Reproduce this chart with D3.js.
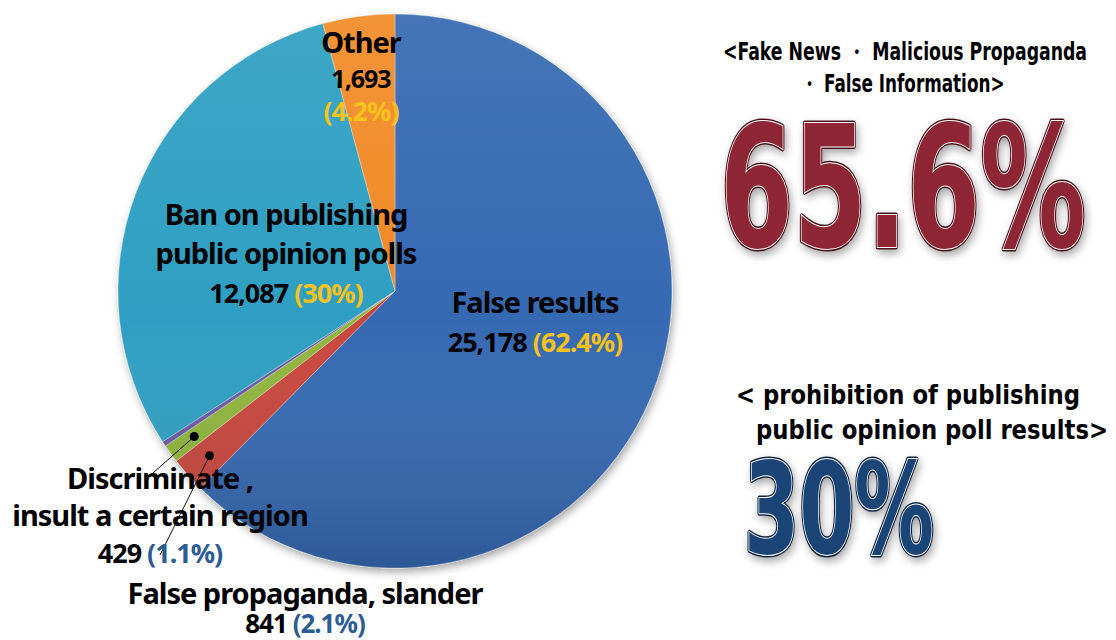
<!DOCTYPE html>
<html>
<head>
<meta charset="utf-8">
<script src="https://cdn.jsdelivr.net/npm/d3@7"></script>
<style>
  body { margin: 0; background: #fff; }
  svg { display: block; }
  .lbl { font-family: "Noto Sans", "Open Sans", sans-serif; font-weight: 700; letter-spacing: -1px; }
  .cond { font-family: "DejaVu Sans Condensed", "DejaVu Sans", sans-serif; font-weight: 700; }
</style>
</head>
<body>
<svg id="chart" width="1116" height="640"></svg>
<script>
// data
const categories = ['False results', 'False propaganda, slander', 'Discriminate , insult a certain region', 'Unlabelled', 'Ban on publishing public opinion polls', 'Other'];
const counts = [25178, 841, 429, 120, 12087, 1693];
const countLabels = ['25,178', '841', '429', '', '12,087', '1,693'];
const pctLabels = ['(62.4%)', '(2.1%)', '(1.1%)', '', '(30%)', '(4.2%)'];
const sliceColors = ['#3669b2', '#c8463d', '#90b53e', '#6a5aa6', '#2f9fc2', '#f28a26'];

const bigFake = '65.6%';
const bigPoll = '30%';

const svg = d3.select('#chart');
const defs = svg.append('defs');

const cx = 395, cy = 291, radius = 277;

// soft shadow for the pie and the big numbers
const shadow = defs.append('filter').attr('id', 'shadow')
    .attr('x', '-10%').attr('y', '-10%').attr('width', '130%').attr('height', '130%');
shadow.append('feDropShadow')
    .attr('dx', 2).attr('dy', 4).attr('stdDeviation', 4)
    .attr('flood-color', '#000').attr('flood-opacity', 0.35);

// shading over the slices (lighter top, darker bottom)
const shade = defs.append('linearGradient').attr('id', 'shade')
    .attr('gradientUnits', 'userSpaceOnUse')
    .attr('x1', 0).attr('y1', -radius).attr('x2', 0).attr('y2', radius);
shade.append('stop').attr('offset', '0%').attr('stop-color', '#fff').attr('stop-opacity', 0.08);
shade.append('stop').attr('offset', '55%').attr('stop-color', '#fff').attr('stop-opacity', 0);
shade.append('stop').attr('offset', '100%').attr('stop-color', '#000').attr('stop-opacity', 0.16);

const pie = d3.pie().value(d => d).sort(null);
const arcs = pie(counts);

const arc = d3.arc().innerRadius(0).outerRadius(radius);
const dotArc = d3.arc().innerRadius(248).outerRadius(248);

const pieG = svg.append('g')
    .attr('transform', `translate(${cx}, ${cy})`);

const slices = pieG.append('g').attr('filter', 'url(#shadow)');
slices.selectAll('path.slice')
    .data(arcs)
    .enter()
    .append('path')
    .attr('class', 'slice')
    .attr('d', arc)
    .attr('fill', (d, i) => sliceColors[i])
    .attr('stroke', 'rgba(255,255,255,0.3)')
    .attr('stroke-width', 1);

pieG.selectAll('path.shade')
    .data(arcs)
    .enter()
    .append('path')
    .attr('class', 'shade')
    .attr('d', arc)
    .attr('fill', 'url(#shade)');

// leader dots + lines for the two thin slices
const leaders = [
    { i: 2, to: [153, 473] },
    { i: 1, to: [160, 555] }
];
leaders.forEach(l => {
    const c = dotArc.centroid(arcs[l.i]);
    svg.append('line')
        .attr('x1', cx + c[0]).attr('y1', cy + c[1])
        .attr('x2', l.to[0]).attr('y2', l.to[1])
        .attr('stroke', '#111').attr('stroke-width', 1);
    svg.append('circle')
        .attr('cx', cx + c[0]).attr('cy', cy + c[1])
        .attr('r', 4.5).attr('fill', '#000');
});

// slice labels (placed like the original)
const yellow = '#f6c21c', navy = '#2d5b93';
function label(x, lines) {
    lines.forEach(ln => {
        const t = svg.append('text').attr('class', 'lbl')
            .attr('x', x).attr('y', ln.y)
            .attr('text-anchor', 'middle')
            .attr('font-size', ln.size);
        ln.parts.forEach(p => {
            t.append('tspan').attr('fill', p.c).text(p.t);
        });
    });
}

label(361, [
    { y: 53, size: 29, parts: [{ t: 'Other', c: '#000' }] },
    { y: 88, size: 25, parts: [{ t: countLabels[5], c: '#000' }] },
    { y: 121, size: 27, parts: [{ t: pctLabels[5], c: yellow }] }
]);
label(286, [
    { y: 225, size: 29, parts: [{ t: 'Ban on publishing', c: '#000' }] },
    { y: 264, size: 29, parts: [{ t: 'public opinion polls', c: '#000' }] },
    { y: 303, size: 27, parts: [{ t: countLabels[4] + ' ', c: '#000' }, { t: pctLabels[4], c: yellow }] }
]);
label(535, [
    { y: 313, size: 29, parts: [{ t: 'False results', c: '#000' }] },
    { y: 352, size: 27, parts: [{ t: countLabels[0] + ' ', c: '#000' }, { t: pctLabels[0], c: yellow }] }
]);
label(160, [
    { y: 489, size: 29, parts: [{ t: 'Discriminate ,', c: '#000' }] },
    { y: 526, size: 29, parts: [{ t: 'insult a certain region', c: '#000' }] },
    { y: 563, size: 27, parts: [{ t: countLabels[2] + ' ', c: '#000' }, { t: pctLabels[2], c: navy }] }
]);
label(305, [
    { y: 604, size: 29, parts: [{ t: 'False propaganda, slander', c: '#000' }] },
    { y: 633, size: 26, parts: [{ t: countLabels[1] + '  ', c: '#000' }, { t: pctLabels[1], c: navy }] }
]);

// right hand side captions
function caption(x, y, txt, size, len) {
    svg.append('text').attr('class', 'cond')
        .attr('x', x).attr('y', y)
        .attr('text-anchor', 'middle')
        .attr('font-size', size)
        .attr('textLength', len)
        .attr('lengthAdjust', 'spacingAndGlyphs')
        .attr('fill', '#000')
        .text(txt);
}
caption(905, 60, '<Fake News  \u30FB Malicious Propaganda', 24, 364);
caption(902, 92, '\u30FB False Information>', 24, 205);
caption(908, 404, '< prohibition of publishing', 27, 344);
caption(932, 439, 'public opinion poll results>', 27, 352);

function bigNumber(x, y, txt, size, len, fill, edge) {
    const g = svg.append('g').attr('filter', 'url(#shadow)');
    g.append('text').attr('class', 'cond')
        .attr('x', x).attr('y', y)
        .attr('font-size', size)
        .attr('textLength', len).attr('lengthAdjust', 'spacingAndGlyphs')
        .attr('fill', fill).attr('stroke', edge).attr('stroke-width', 5)
        .attr('stroke-linejoin', 'round')
        .text(txt);
    g.append('text').attr('class', 'cond')
        .attr('x', x).attr('y', y)
        .attr('font-size', size)
        .attr('textLength', len).attr('lengthAdjust', 'spacingAndGlyphs')
        .attr('fill', fill).attr('stroke', '#fff').attr('stroke-width', 2)
        .attr('paint-order', 'stroke')
        .text(txt);
}
bigNumber(720, 247, bigFake, 170, 366, '#8e2634', '#4a0f18');
bigNumber(744, 553, bigPoll, 126, 190, '#1f4577', '#0d2240');
</script>
</body>
</html>
